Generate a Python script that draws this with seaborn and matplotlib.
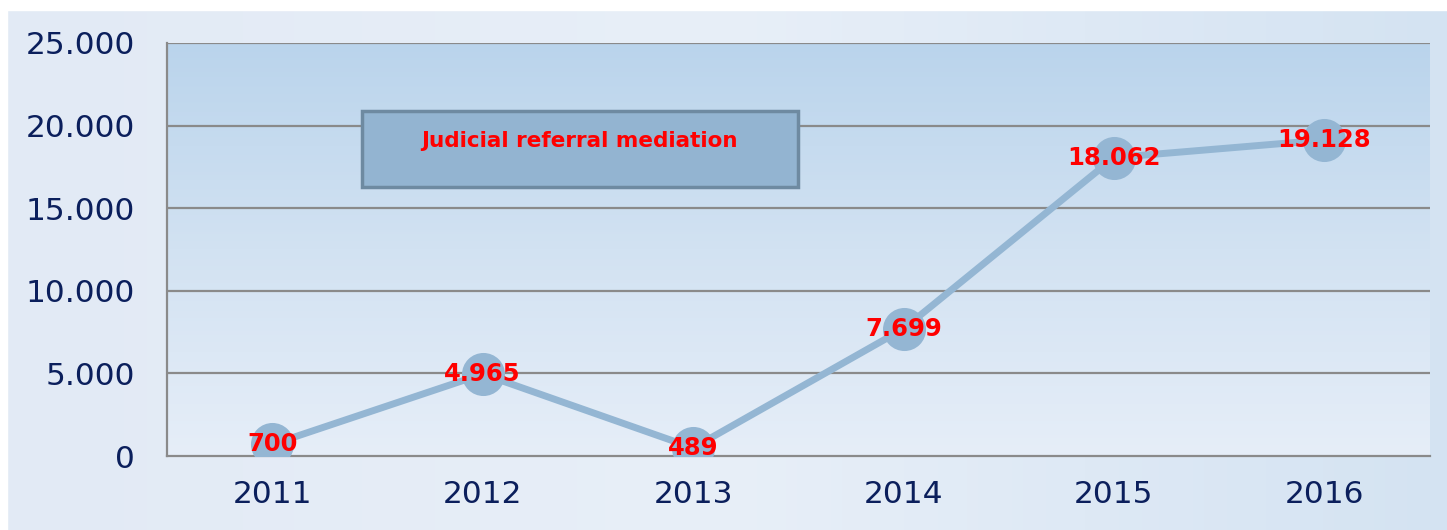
import numpy as np
import pandas as pd
import matplotlib
matplotlib.use("Agg")
import matplotlib.pyplot as plt
from matplotlib.patches import Rectangle
import seaborn as sns

years = ["2011", "2012", "2013", "2014", "2015", "2016"]
cases = [700, 4965, 489, 7699, 18062, 19128]
labels = ["700", "4.965", "489", "7.699", "18.062", "19.128"]
yticks = [0, 5000, 10000, 15000, 20000, 25000]
ytick_labels = ["0", "5.000", "10.000", "15.000", "20.000", "25.000"]
title = "Judicial referral mediation"

df = pd.DataFrame({"year": years, "cases": cases})

sns.set_style("white")
plt.rcParams["font.family"] = ["DejaVu Sans"]

fig = plt.figure(figsize=(14.47, 5.30), dpi=100)
fig.patch.set_facecolor("#e4ecf6")

# soft background of the slide
bg = fig.add_axes([0, 0, 1, 1], zorder=-10)
grad = np.linspace(0, 1, 256).reshape(1, -1)
bg.imshow(grad, aspect="auto", extent=[0, 1, 0, 1],
          cmap=matplotlib.colors.LinearSegmentedColormap.from_list(
              "bg", ["#e2eaf5", "#e8eff8", "#d4e3f2"]))
bg.add_patch(Rectangle((0, 0.982), 1, 0.02, color="white"))
bg.add_patch(Rectangle((0, 0), 0.005, 1, color="white"))
bg.set_xlim(0, 1)
bg.set_ylim(0, 1)
bg.axis("off")

ax = fig.add_axes([0.1154, 0.1396, 0.8726, 0.7793])
ax.set_facecolor("none")

# gradient in the plot area
cm = matplotlib.colors.LinearSegmentedColormap.from_list("pa", ["#e6eef8", "#d2e2f2", "#bad4ec"])
ax.imshow(np.linspace(0, 1, 256).reshape(-1, 1), aspect="auto", cmap=cm,
          origin="lower", extent=[-0.5, 5.5, 0, 25000], zorder=0)

sns.lineplot(data=df, x="year", y="cases", ax=ax, color="#94b6d3",
             linewidth=5, marker="o", markersize=31, markeredgewidth=0,
             zorder=3)

for i, (v, lab) in enumerate(zip(cases, labels)):
    ax.text(i, v, lab, color="#ff0000", fontsize=17.5, fontweight="bold",
            ha="center", va="center", zorder=5)

ax.set_xlim(-0.5, 5.5)
ax.set_ylim(0, 25000)
ax.set_yticks(yticks)
ax.set_yticklabels(ytick_labels)
ax.set_xlabel("")
ax.set_ylabel("")
for t in yticks[1:]:
    ax.axhline(t, color="#8a8a8a", linewidth=1.6, zorder=1)
ax.tick_params(axis="y", labelsize=22.5, labelcolor="#0b1f5c", length=0, pad=23)
ax.tick_params(axis="x", labelsize=22.5, labelcolor="#0b1f5c", length=0, pad=17)

for s in ["top", "right"]:
    ax.spines[s].set_visible(False)
for s in ["left", "bottom"]:
    ax.spines[s].set_color("#8a8a8a")
    ax.spines[s].set_linewidth(1.6)

box = Rectangle((0.1544, 0.651), 0.345, 0.184, transform=ax.transAxes,
                facecolor="#93b4d1", edgecolor="#6e8aa1", linewidth=2.5, zorder=4)
ax.add_patch(box)
ax.text(0.327, 0.763, title, transform=ax.transAxes, color="#ff0000",
        fontsize=15.5, fontweight="bold", ha="center", va="center", zorder=5)

fig.savefig("out.png", dpi=100)
